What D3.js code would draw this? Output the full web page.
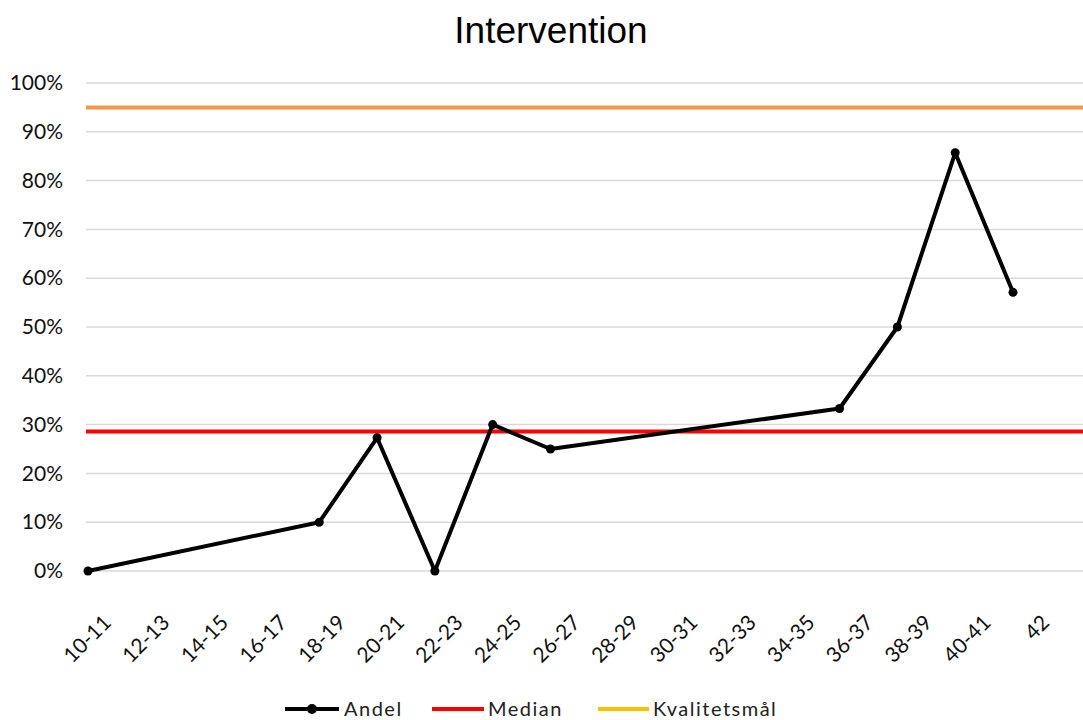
<!DOCTYPE html>
<html>
<head>
<meta charset="utf-8">
<script src="https://cdn.jsdelivr.net/npm/d3@7"></script>
<style>
  html, body { margin: 0; padding: 0; background: #fff; }
  svg { display: block; }
</style>
</head>
<body>
<svg id="chart" width="1083" height="720"></svg>
<script>
// Week intervals on the category axis
const categories = ["10-11","12-13","14-15","16-17","18-19","20-21","22-23","24-25","26-27",
                    "28-29","30-31","32-33","34-35","36-37","38-39","40-41","42"];
// Share per interval (null = no measurement; the line bridges the gap)
const andel = [0, null, null, null, 0.10, 0.273, 0, 0.30, 0.25,
               null, null, null, null, 0.333, 0.50, 0.857, 0.571];
const median = 0.286;
const kvalitetsmal = 0.95;
const yTicks = [0, 0.1, 0.2, 0.3, 0.4, 0.5, 0.6, 0.7, 0.8, 0.9, 1.0];
const legendItems = ["Andel", "Median", "Kvalitetsmål"];

const svg = d3.select("#chart");
const plot = { left: 86, right: 1083, top: 83, bottom: 571 };
const labelFont = "Lato, 'Open Sans', sans-serif";

// Scales
const y = d3.scaleLinear().domain([0, 1]).range([plot.bottom, plot.top]);
const xBand = d3.scaleBand().domain(categories).range([plot.left, plot.right]);
const xPt = d3.scalePoint().domain(categories).range([plot.left + 2, 1013]);

// Title
svg.append("text")
  .attr("x", 551).attr("y", 43)
  .attr("text-anchor", "middle")
  .attr("font-family", "'Liberation Sans', Arial, sans-serif")
  .attr("font-size", 37)
  .attr("fill", "#000")
  .text("Intervention");

// Horizontal gridlines
svg.append("g")
  .selectAll("line").data(yTicks).join("line")
  .attr("x1", plot.left).attr("x2", plot.right)
  .attr("y1", d => y(d)).attr("y2", d => y(d))
  .attr("stroke", "#d9d9d9").attr("stroke-width", 1.5);

// Y axis labels
const yAxis = d3.axisLeft(y).tickValues(yTicks).tickFormat(d3.format(".0%")).tickSize(0).tickPadding(0);
const yg = svg.append("g").attr("transform", "translate(63,0)").call(yAxis);
yg.select(".domain").remove();
yg.selectAll("text")
  .attr("font-family", labelFont).attr("font-size", 21).attr("fill", "#111");

// X axis labels (rotated)
const xAxis = d3.axisBottom(xBand).tickSize(0).tickPadding(0);
const xg = svg.append("g").call(xAxis);
xg.select(".domain").remove();
xg.selectAll(".tick").attr("transform", d => `translate(${xBand(d) + xBand.bandwidth() / 2 - 3},624)`);
xg.selectAll("text")
  .attr("font-family", labelFont).attr("font-size", 21).attr("fill", "#111")
  .attr("text-anchor", "end").attr("dy", 0).attr("y", 0)
  .attr("transform", "rotate(-45)");

// Target line and median line
svg.append("line")
  .attr("x1", plot.left).attr("x2", plot.right)
  .attr("y1", y(kvalitetsmal)).attr("y2", y(kvalitetsmal))
  .attr("stroke", "#f79646").attr("stroke-width", 4);
svg.append("line")
  .attr("x1", plot.left).attr("x2", plot.right)
  .attr("y1", y(median)).attr("y2", y(median))
  .attr("stroke", "#ff0000").attr("stroke-width", 4);

// Share series
const pts = categories.map((c, i) => ({ c, v: andel[i] })).filter(d => d.v !== null);
svg.append("path")
  .datum(pts)
  .attr("fill", "none").attr("stroke", "#000").attr("stroke-width", 4)
  .attr("stroke-linejoin", "round")
  .attr("d", d3.line().x(d => xPt(d.c)).y(d => y(d.v)));
svg.append("g").selectAll("circle").data(pts).join("circle")
  .attr("cx", d => xPt(d.c)).attr("cy", d => y(d.v)).attr("r", 4.5).attr("fill", "#000");

// Legend
const legendY = 709;
const lg = svg.append("g").attr("font-family", labelFont).attr("font-size", 20).attr("fill", "#222");
const legendLayout = [
  { name: legendItems[0], x0: 285, x1: 339, tx: 344, color: "#000", marker: true },
  { name: legendItems[1], x0: 432, x1: 484, tx: 488, color: "#ff0000", marker: false },
  { name: legendItems[2], x0: 598, x1: 649, tx: 653, color: "#ffc000", marker: false }
];
legendLayout.forEach(l => {
  lg.append("line").attr("x1", l.x0).attr("x2", l.x1).attr("y1", legendY).attr("y2", legendY)
    .attr("stroke", l.color).attr("stroke-width", 4);
  if (l.marker) lg.append("circle").attr("cx", (l.x0 + l.x1) / 2).attr("cy", legendY).attr("r", 5).attr("fill", "#000");
  lg.append("text").attr("x", l.tx).attr("y", legendY + 7).attr("letter-spacing", 1.5).text(l.name);
});
</script>
</body>
</html>
